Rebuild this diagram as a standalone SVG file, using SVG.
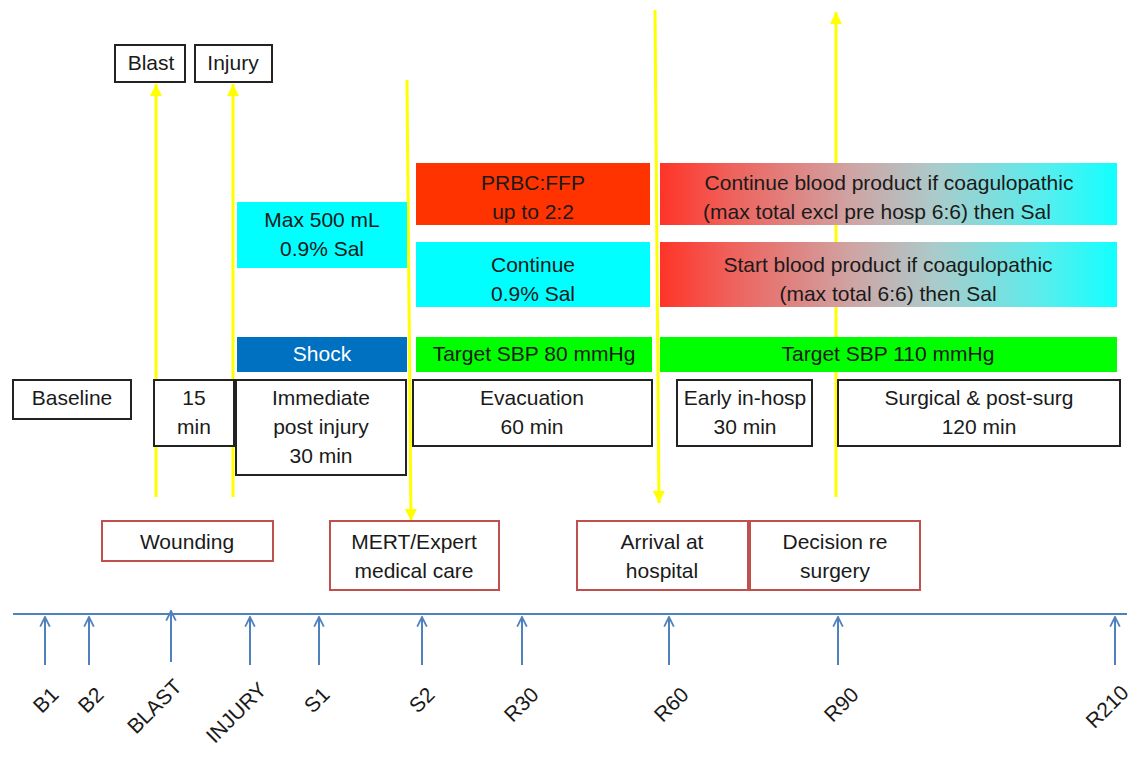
<svg xmlns="http://www.w3.org/2000/svg" width="1140" height="773" viewBox="0 0 1140 773">
<defs>
<linearGradient id="grad" x1="0" y1="0" x2="1" y2="0">
<stop offset="0" stop-color="#FF3428"/>
<stop offset="0.15" stop-color="#F0605A"/>
<stop offset="0.42" stop-color="#CFA4A4"/>
<stop offset="0.6" stop-color="#ACCACA"/>
<stop offset="0.85" stop-color="#55EEEE"/>
<stop offset="1" stop-color="#12FFFF"/>
</linearGradient>
<marker id="ya" viewBox="0 0 10 10" refX="10" refY="5" markerWidth="4" markerHeight="4" orient="auto" markerUnits="strokeWidth">
<path d="M0,0 L10,5 L0,10 z" fill="#FFFF00"/>
</marker>
<marker id="ba" viewBox="0 0 10 10" refX="9" refY="5" markerWidth="6" markerHeight="6" orient="auto" markerUnits="strokeWidth">
<path d="M1,1 L9,5 L1,9" fill="none" stroke="#4F81BD" stroke-width="1.5"/>
</marker>
<style>
text{font-family:"Liberation Sans",Arial,sans-serif;font-size:21px;fill:#1a1a1a;text-anchor:middle}
.bk{fill:#fff;stroke:#222;stroke-width:2}
.rd{fill:#fff;stroke:#C0504D;stroke-width:2}
.cy{fill:#00FFFF}
.gr{fill:#00FF00}
.red{fill:#FF3300}
.gd{fill:url(#grad)}
.yl{stroke:#FFFF00;stroke-width:3;fill:none}
.tk{stroke:#4F81BD;stroke-width:2;fill:none}
.lb{font-size:21px;text-anchor:end}
</style>
</defs>
<rect width="1140" height="773" fill="#fff"/>

<g id="connectors">
<line class="yl" x1="156" y1="497" x2="156" y2="84" marker-end="url(#ya)"/>
<line class="yl" x1="233" y1="497" x2="233" y2="84" marker-end="url(#ya)"/>
<line class="yl" x1="407" y1="80" x2="411" y2="521" marker-end="url(#ya)"/>
<line class="yl" x1="655" y1="10" x2="659" y2="503" marker-end="url(#ya)"/>
<line class="yl" x1="836" y1="497" x2="836" y2="12" marker-end="url(#ya)"/>
</g>

<g id="blast"><rect class="bk" x="115" y="45" width="70" height="37"/><text x="151" y="70">Blast</text></g>
<g id="injury"><rect class="bk" x="195" y="45" width="77" height="37"/><text x="233" y="70">Injury</text></g>

<g id="max500"><rect class="cy" x="237" y="202" width="170" height="66"/><text x="322" y="227">Max 500 mL</text><text x="322" y="256">0.9% Sal</text></g>
<g id="prbc"><rect class="red" x="416" y="163" width="234" height="62"/><text x="533" y="190">PRBC:FFP</text><text x="533" y="219">up to 2:2</text></g>
<g id="contblood"><rect class="gd" x="660" y="163" width="457" height="62"/><text x="889" y="190">Continue blood product if coagulopathic</text><text x="877" y="219">(max total excl pre hosp 6:6) then Sal</text></g>
<g id="contsal"><rect class="cy" x="416" y="242" width="234" height="65"/><text x="533" y="272">Continue</text><text x="533" y="301">0.9% Sal</text></g>
<g id="startblood"><rect class="gd" x="660" y="242" width="457" height="65"/><text x="888" y="272">Start blood product if coagulopathic</text><text x="888" y="301">(max total 6:6) then Sal</text></g>
<g id="shock"><rect x="237" y="337" width="170" height="35" fill="#0070C0"/><text x="322" y="361" style="fill:#fff">Shock</text></g>
<g id="sbp80"><rect class="gr" x="416" y="337" width="236" height="35"/><text x="534" y="361">Target SBP 80 mmHg</text></g>
<g id="sbp110"><rect class="gr" x="660" y="337" width="457" height="35"/><text x="888" y="361">Target SBP 110 mmHg</text></g>

<g id="baseline"><rect class="bk" x="13" y="380" width="118" height="39"/><text x="72" y="405">Baseline</text></g>
<g id="min15"><rect class="bk" x="154" y="380" width="80" height="66"/><text x="194" y="405">15</text><text x="194" y="434">min</text></g>
<g id="immediate"><rect class="bk" x="236" y="380" width="170" height="95"/><text x="321" y="405">Immediate</text><text x="321" y="434">post injury</text><text x="321" y="463">30 min</text></g>
<g id="evacuation"><rect class="bk" x="413" y="380" width="239" height="66"/><text x="532" y="405">Evacuation</text><text x="532" y="434">60 min</text></g>
<g id="earlyhosp"><rect class="bk" x="677" y="380" width="135" height="66"/><text x="745" y="405">Early in-hosp</text><text x="745" y="434">30 min</text></g>
<g id="surgical"><rect class="bk" x="838" y="380" width="282" height="66"/><text x="979" y="405">Surgical &amp; post-surg</text><text x="979" y="434">120 min</text></g>

<g id="wounding"><rect class="rd" x="102" y="521" width="171" height="40"/><text x="187" y="549">Wounding</text></g>
<g id="mert"><rect class="rd" x="330" y="521" width="169" height="69"/><text x="414" y="549">MERT/Expert</text><text x="414" y="578">medical care</text></g>
<g id="arrival"><rect class="rd" x="577" y="521" width="171" height="69"/><text x="662" y="549">Arrival at</text><text x="662" y="578">hospital</text></g>
<g id="decision"><rect class="rd" x="750" y="521" width="170" height="69"/><text x="835" y="549">Decision re</text><text x="835" y="578">surgery</text></g>

<g id="timeline">
<line class="tk" x1="13" y1="614" x2="1127" y2="614"/>
<line class="tk" x1="45" y1="665" x2="45" y2="617" marker-end="url(#ba)"/>
<line class="tk" x1="89" y1="665" x2="89" y2="617" marker-end="url(#ba)"/>
<line class="tk" x1="171" y1="662" x2="171" y2="611" marker-end="url(#ba)"/>
<line class="tk" x1="250" y1="665" x2="250" y2="617" marker-end="url(#ba)"/>
<line class="tk" x1="319" y1="665" x2="319" y2="617" marker-end="url(#ba)"/>
<line class="tk" x1="422" y1="665" x2="422" y2="617" marker-end="url(#ba)"/>
<line class="tk" x1="522" y1="665" x2="522" y2="617" marker-end="url(#ba)"/>
<line class="tk" x1="669" y1="665" x2="669" y2="617" marker-end="url(#ba)"/>
<line class="tk" x1="838" y1="665" x2="838" y2="617" marker-end="url(#ba)"/>
<line class="tk" x1="1115" y1="665" x2="1115" y2="617" marker-end="url(#ba)"/>
<text class="lb" transform="translate(60,696) rotate(-45)">B1</text>
<text class="lb" transform="translate(105,696) rotate(-45)">B2</text>
<text class="lb" transform="translate(183,688) rotate(-45)">BLAST</text>
<text class="lb" transform="translate(268,691) rotate(-45)">INJURY</text>
<text class="lb" transform="translate(331,696) rotate(-45)">S1</text>
<text class="lb" transform="translate(436,696) rotate(-45)">S2</text>
<text class="lb" transform="translate(540,696) rotate(-45)">R30</text>
<text class="lb" transform="translate(690,696) rotate(-45)">R60</text>
<text class="lb" transform="translate(860,696) rotate(-45)">R90</text>
<text class="lb" transform="translate(1130,694) rotate(-45)">R210</text>
</g>
</svg>
